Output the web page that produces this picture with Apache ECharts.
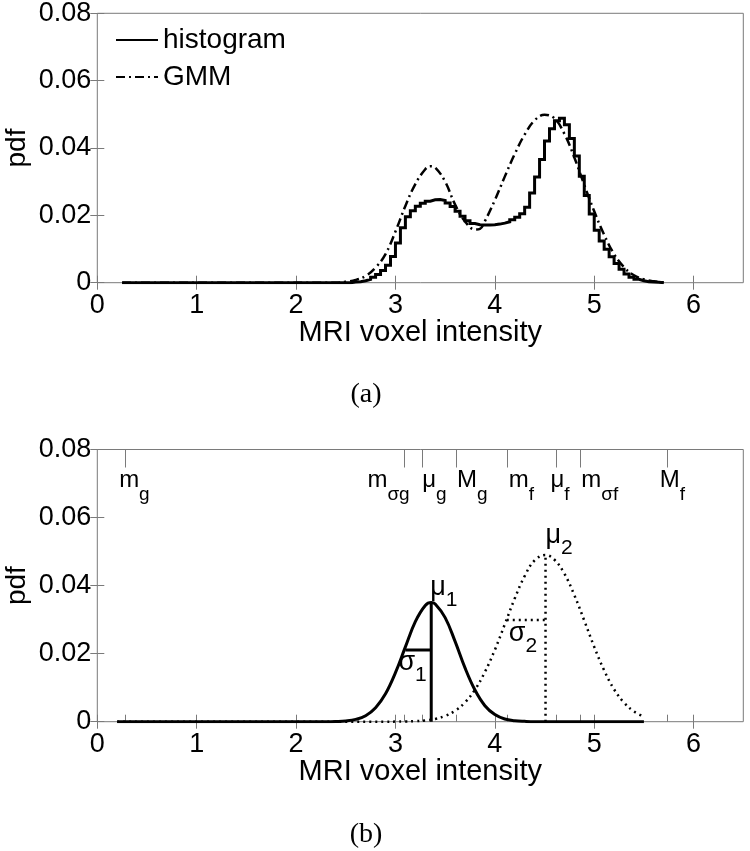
<!DOCTYPE html>
<html><head><meta charset="utf-8">
<script src="https://cdn.jsdelivr.net/npm/echarts@6/dist/echarts.min.js"></script>
<style>html,body{margin:0;padding:0;background:#fff}#c{width:750px;height:851px}</style>
</head><body><div id="c"></div>
<script>
// ---------- data ----------
const xTicks = [0, 1, 2, 3, 4, 5, 6];
const yTicks = [0, 0.02, 0.04, 0.06, 0.08];

// (a) histogram: bin left edges and pdf values (last edge closes the final bin)
const histEdges = [0.25, 2.55, 2.60, 2.65, 2.70, 2.75, 2.80, 2.85, 2.90, 2.95, 3.00, 3.05, 3.10, 3.15, 3.20, 3.25, 3.30, 3.35, 3.40, 3.45, 3.50, 3.55, 3.60, 3.65, 3.70, 3.75, 3.80, 3.85, 3.90, 3.95, 4.00, 4.05, 4.10, 4.15, 4.20, 4.25, 4.30, 4.35, 4.40, 4.45, 4.50, 4.55, 4.60, 4.65, 4.70, 4.75, 4.80, 4.85, 4.90, 4.95, 5.00, 5.05, 5.10, 5.15, 5.20, 5.25, 5.30, 5.35, 5.40, 5.45, 5.50, 5.55, 5.60, 5.65, 5.70];
const histValues = [0, 0.0002, 0.0003, 0.0006, 0.0010, 0.0016, 0.0024, 0.0036, 0.0052, 0.0078, 0.0118, 0.0163, 0.0196, 0.0214, 0.0227, 0.0236, 0.0242, 0.0246, 0.0247, 0.0244, 0.0237, 0.0226, 0.0212, 0.0197, 0.0184, 0.0176, 0.0172, 0.0171, 0.0171, 0.0172, 0.0174, 0.0177, 0.0181, 0.0187, 0.0194, 0.0205, 0.0224, 0.0266, 0.0314, 0.0366, 0.0421, 0.0457, 0.0481, 0.0488, 0.0469, 0.0428, 0.0376, 0.0316, 0.0259, 0.0204, 0.0156, 0.0124, 0.0099, 0.0077, 0.0057, 0.0040, 0.0026, 0.0016, 0.0010, 0.0006, 0.0003, 0.0002, 0.0001, 0, 0];

// (a) GMM curve
const gmmX = [0.25, 2.4, 2.5, 2.6, 2.7, 2.8, 2.9, 3.0, 3.1, 3.2, 3.3, 3.35, 3.4, 3.5, 3.6, 3.7, 3.8, 3.85, 3.9, 4.0, 4.1, 4.2, 4.3, 4.4, 4.5, 4.6, 4.7, 4.8, 4.9, 5.0, 5.1, 5.2, 5.3, 5.4, 5.5, 5.6, 5.7];
const gmmY = [0, 0, 0.0003, 0.0008, 0.0020, 0.0045, 0.0085, 0.0152, 0.0228, 0.0293, 0.0337, 0.0346, 0.0342, 0.0300, 0.0232, 0.0182, 0.0158, 0.0160, 0.0183, 0.0245, 0.0315, 0.0382, 0.0440, 0.0482, 0.0499, 0.0488, 0.0442, 0.0372, 0.0290, 0.0212, 0.0142, 0.0085, 0.0046, 0.0022, 0.0010, 0.0004, 0.0001];

// (b) component 1 (solid) and component 2 (dotted)
const comp1X = [0.2, 2.3, 2.4, 2.5, 2.6, 2.7, 2.8, 2.9, 3.0, 3.1, 3.2, 3.3, 3.36, 3.4, 3.5, 3.6, 3.7, 3.8, 3.9, 4.0, 4.1, 4.2, 4.3, 4.4, 5.5];
const comp1Y = [0, 0, 0.00006, 0.00022, 0.00067, 0.00176, 0.0041, 0.0082, 0.0144, 0.0220, 0.0294, 0.03415, 0.0350, 0.0346, 0.0306, 0.0236, 0.0158, 0.0093, 0.0047, 0.0021, 0.0008, 0.0003, 0.0001, 0, 0];
const comp2X = [0.2, 2.9, 3.0, 3.1, 3.2, 3.3, 3.4, 3.5, 3.6, 3.7, 3.8, 3.9, 4.0, 4.1, 4.2, 4.3, 4.4, 4.51, 4.6, 4.7, 4.8, 4.9, 5.0, 5.1, 5.2, 5.3, 5.4, 5.5];
const comp2Y = [0, 0, 0.00003, 0.00007, 0.00016, 0.00038, 0.0008, 0.0017, 0.0032, 0.0057, 0.0094, 0.0146, 0.0211, 0.0286, 0.0362, 0.0428, 0.0474, 0.0490, 0.0476, 0.0435, 0.0372, 0.0297, 0.0220, 0.0151, 0.0095, 0.0056, 0.0030, 0.0015];

// (b) mean / sigma guide lines
const mu1LineX = [3.36, 3.36], mu1LineY = [0, 0.0350];
const sig1LineX = [3.10, 3.36], sig1LineY = [0.0211, 0.0211];
const mu2LineX = [4.51, 4.51], mu2LineY = [0, 0.0490];
const sig2LineX = [4.12, 4.51], sig2LineY = [0.0299, 0.0299];

// (b) threshold markers on the top axis
const markValues = [0.28, 3.09, 3.27, 3.61, 4.12, 4.62, 4.86, 5.73];
const markMain = ['m', 'm', 'μ', 'M', 'm', 'μ', 'm', 'M'];
const markSub  = ['g', 'σg', 'g', 'g', 'f', 'f', 'σf', 'f'];

// (b) curve labels
const curveLabelX = [3.35, 3.03, 4.51, 4.14];
const curveLabelY = [0.0367, 0.0146, 0.0520, 0.0232];
const curveLabelMain = ['μ', 'σ', 'μ', 'σ'];
const curveLabelSub  = ['1', '1', '2', '2'];

// ---------- styling ----------
const FONT = "'Liberation Sans', Arial, Helvetica, sans-serif";
const FRAME = '#7a7a7a';
const TXT = '#000';
const markDx = [-6, -37, 0, 1, 2, -6, 1, -7];

const zip = (xs, ys) => xs.map((x, i) => [x, ys[i]]);

function xAxisBase(grid, pos, extra) {
  return Object.assign({
    type: 'value', gridIndex: grid, position: pos, min: 0, max: 6.5,
    axisLine: { show: false }, splitLine: { show: false },
    axisTick: { show: true, inside: true, length: 7, lineStyle: { color: FRAME, width: 1 }, customValues: xTicks },
    axisLabel: { show: false }
  }, extra || {});
}
function bottomX(grid, tickVals) {
  return xAxisBase(grid, 'bottom', {
    axisTick: { show: true, inside: true, length: 7, lineStyle: { color: FRAME, width: 1 }, customValues: tickVals },
    axisLabel: { show: true, customValues: xTicks, color: TXT, fontSize: 27, fontFamily: FONT, margin: 9 },
    name: 'MRI voxel intensity', nameLocation: 'middle', nameGap: 36, nameMoveOverlap: false,
    nameTextStyle: { color: TXT, fontSize: 29, fontFamily: FONT }
  });
}
function yAxisBase(grid, pos, labels) {
  return {
    type: 'value', gridIndex: grid, position: pos, min: 0, max: 0.08, interval: 0.02,
    axisLine: { show: false }, splitLine: { show: false },
    axisTick: { show: true, inside: true, length: 7, lineStyle: { color: FRAME, width: 1 } },
    axisLabel: labels ? { show: true, color: TXT, fontSize: 27, fontFamily: FONT, margin: 6,
      formatter: v => v === 0 ? '0' : v.toFixed(2) } : { show: false },
    name: labels ? 'pdf' : '', nameLocation: 'middle', nameGap: 66, nameRotate: 90, nameMoveOverlap: false,
    nameTextStyle: { color: TXT, fontSize: 28, fontFamily: FONT }
  };
}

const sorted = xTicks.concat(markValues).sort((a, b) => a - b);
const richLabel = (mainSize, subSize, pad) => ({
  a: { fontSize: mainSize, fontFamily: FONT, color: TXT, textBorderWidth: 0, padding: [0, 0, pad, 0], verticalAlign: 'bottom' },
  b: { fontSize: subSize, fontFamily: FONT, color: TXT, textBorderWidth: 0, verticalAlign: 'bottom' }
});

const series = [
  { name: 'histogram', type: 'line', xAxisIndex: 0, yAxisIndex: 0, step: 'end', symbol: 'none',
    itemStyle: { color: '#000' },
    data: zip(histEdges, histValues), lineStyle: { color: '#000', width: 3, join: 'miter' }, z: 3 },
  { name: 'GMM', type: 'line', xAxisIndex: 0, yAxisIndex: 0, smooth: 0.4, symbol: 'none',
    itemStyle: { color: '#000' },
    data: zip(gmmX, gmmY), lineStyle: { color: '#000', width: 2.5, type: [9, 4, 2, 4] }, z: 4 },
  { type: 'line', xAxisIndex: 2, yAxisIndex: 2, smooth: 0.4, symbol: 'none',
    data: zip(comp1X, comp1Y), lineStyle: { color: '#000', width: 3 }, z: 4 },
  { type: 'line', xAxisIndex: 2, yAxisIndex: 2, smooth: 0.4, symbol: 'none',
    data: zip(comp2X, comp2Y), lineStyle: { color: '#000', width: 2.5, type: [2, 4] }, z: 3 },
  { type: 'line', xAxisIndex: 2, yAxisIndex: 2, symbol: 'none', data: zip(mu1LineX, mu1LineY), lineStyle: { color: '#000', width: 3 } },
  { type: 'line', xAxisIndex: 2, yAxisIndex: 2, symbol: 'none', data: zip(sig1LineX, sig1LineY), lineStyle: { color: '#000', width: 3 } },
  { type: 'line', xAxisIndex: 2, yAxisIndex: 2, symbol: 'none', data: zip(mu2LineX, mu2LineY), lineStyle: { color: '#000', width: 2.5, type: [2, 4] } },
  { type: 'line', xAxisIndex: 2, yAxisIndex: 2, symbol: 'none', data: zip(sig2LineX, sig2LineY), lineStyle: { color: '#000', width: 2.5, type: [2, 4] } },
  // top-axis threshold labels
  { type: 'scatter', xAxisIndex: 2, yAxisIndex: 2, symbolSize: 0, silent: true,
    itemStyle: { color: '#000', opacity: 1 },
    data: markValues.map((v, i) => ({ value: [v, 0.0687], label: { offset: [markDx[i], 16] } })),
    label: { show: true, position: [0, 0], align: 'left', verticalAlign: 'bottom', color: TXT, opacity: 1, textBorderWidth: 0,
      formatter: p => '{a|' + markMain[p.dataIndex] + '}{b|' + markSub[p.dataIndex] + '}',
      rich: richLabel(24, 19, 12) } },
  // curve labels
  { type: 'scatter', xAxisIndex: 2, yAxisIndex: 2, symbolSize: 0, silent: true,
    itemStyle: { color: '#000', opacity: 1 },
    data: zip(curveLabelX, curveLabelY),
    label: { show: true, position: [0, 0], align: 'left', verticalAlign: 'bottom', offset: [0, 14], color: TXT, opacity: 1, textBorderWidth: 0,
      formatter: p => '{a|' + curveLabelMain[p.dataIndex] + '}{b|' + curveLabelSub[p.dataIndex] + '}',
      rich: richLabel(27, 21, 10) } }
];

const option = {
  animation: false,
  backgroundColor: '#fff',
  grid: [
    { left: 97.3, right: 6.7, top: 13.3, height: 269.4, show: true, borderColor: FRAME, borderWidth: 1, backgroundColor: 'transparent', containLabel: false, outerBoundsMode: 'none' },
    { left: 97.3, right: 6.7, top: 449.5, height: 272.2, show: true, borderColor: FRAME, borderWidth: 1, backgroundColor: 'transparent', containLabel: false, outerBoundsMode: 'none' }
  ],
  xAxis: [
    bottomX(0, xTicks),
    xAxisBase(0, 'top'),
    bottomX(1, sorted),
    xAxisBase(1, 'top'),
    xAxisBase(1, 'top', { axisTick: { show: true, inside: true, length: 18, lineStyle: { color: FRAME, width: 1 }, customValues: markValues } })
  ],
  yAxis: [
    yAxisBase(0, 'left', true), yAxisBase(0, 'right', false),
    yAxisBase(1, 'left', true), yAxisBase(1, 'right', false)
  ],
  legend: {
    data: ['histogram', 'GMM'], orient: 'vertical', left: 110, top: 21, itemGap: 9,
    itemWidth: 42, itemHeight: 14, selectedMode: false,
    itemStyle: { opacity: 0 },
    textStyle: { color: TXT, fontSize: 28, fontFamily: FONT }
  },
  graphic: [
    { type: 'text', x: 366, y: 395, style: { text: '(a)', font: "28px 'Liberation Serif', 'Times New Roman', serif", fill: TXT, align: 'center', verticalAlign: 'middle' } },
    { type: 'text', x: 366, y: 835, style: { text: '(b)', font: "28px 'Liberation Serif', 'Times New Roman', serif", fill: TXT, align: 'center', verticalAlign: 'middle' } }
  ],
  series: series
};

const chart = echarts.init(document.getElementById('c'), null, { renderer: 'canvas' });
chart.setOption(option);
</script>
</body></html>
